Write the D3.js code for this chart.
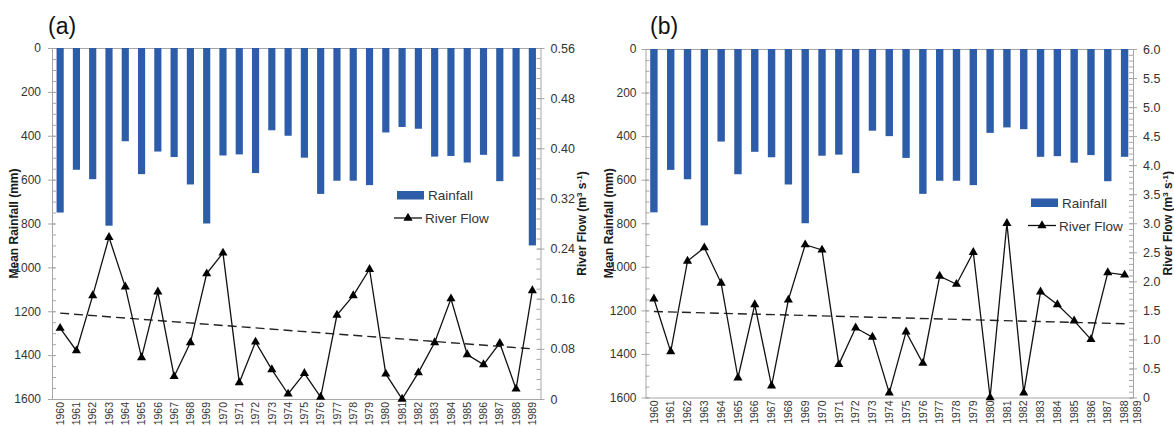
<!DOCTYPE html>
<html>
<head>
<meta charset="utf-8">
<script src="https://cdn.jsdelivr.net/npm/d3@7"></script>
<style>
  body { margin: 0; background: #fff; }
  svg { display: block; font-family: "Liberation Sans", Arial, sans-serif; }
</style>
</head>
<body>
<div id="chart"></div>
<script>
// years on the category axis
const years = [1960, 1961, 1962, 1963, 1964, 1965, 1966, 1967, 1968, 1969,
               1970, 1971, 1972, 1973, 1974, 1975, 1976, 1977, 1978, 1979,
               1980, 1981, 1982, 1983, 1984, 1985, 1986, 1987, 1988, 1989];

// mean rainfall (mm), same series in both panels
const rainfall = [750, 555, 598, 810, 425, 575, 472, 497, 622, 800,
                  490, 485, 570, 375, 400, 500, 665, 605, 605, 625,
                  385, 360, 368, 495, 492, 522, 487, 607, 495, 900];

// river flow (m3 s-1)
const flowA = [0.113, 0.077, 0.165, 0.258, 0.179, 0.066, 0.171, 0.036, 0.090, 0.200,
               0.233, 0.026, 0.091, 0.047, 0.008, 0.041, 0.003, 0.134, 0.165, 0.207,
               0.040, 0.000, 0.042, 0.090, 0.160, 0.071, 0.055, 0.089, 0.016, 0.173];
const flowB = [1.70, 0.79, 2.35, 2.58, 1.97, 0.34, 1.60, 0.20, 1.68, 2.63,
               2.54, 0.57, 1.20, 1.04, 0.08, 1.13, 0.59, 2.09, 1.95, 2.50,
               0.00, 3.00, 0.08, 1.82, 1.60, 1.32, 1.00, 2.15, 2.11];

// dashed trend line, start and end value
const trendA = [0.137, 0.080];
const trendB = [1.48, 1.27];

// tick values
const rainTicks = [0, 200, 400, 600, 800, 1000, 1200, 1400, 1600];
const flowTicksA = [0, 0.08, 0.16, 0.24, 0.32, 0.40, 0.48, 0.56];
const flowTicksB = [0, 0.5, 1.0, 1.5, 2.0, 2.5, 3.0, 3.5, 4.0, 4.5, 5.0, 5.5, 6.0];

const width = 1174, height = 426;
const barColor = "#2d5ca8",
      axisColor = "#a6a6a6",
      labelColor = "#333";

const svg = d3.select("#chart").append("svg")
    .attr("width", width)
    .attr("height", height);

function drawPanel(p) {
  const g = svg.append("g");
  const yrs = years.slice(0, p.flow.length);

  const x = d3.scaleBand()
      .domain(yrs)
      .range([p.x0, p.x1])
      .paddingInner(0.56)
      .paddingOuter(0.28);

  const yRain = d3.scaleLinear().domain([0, 1600]).range([p.top, p.bottom]);
  const yFlow = d3.scaleLinear().domain([0, d3.max(p.flowTicks)]).range([p.bottom, p.top]);
  const cx = d => x(d) + x.bandwidth() / 2;

  // top and bottom frame lines
  g.append("g")
      .attr("transform", "translate(0," + p.top + ")")
      .call(d3.axisTop(x).tickSize(0).tickFormat(""))
      .call(a => a.select(".domain").attr("stroke", axisColor));

  const xb = g.append("g")
      .attr("transform", "translate(0," + p.bottom + ")")
      .call(d3.axisBottom(x).tickSize(0).tickPadding(0).tickFormat(d3.format("d")));
  xb.select(".domain").attr("stroke", axisColor);
  xb.selectAll("text")
      .attr("transform", "rotate(-90)")
      .attr("text-anchor", "end")
      .attr("x", -3)
      .attr("y", 0)
      .attr("dy", "0.35em")
      .attr("fill", labelColor)
      .style("font-size", "10.5px")
      .style("font-family", "Liberation Sans, Arial, sans-serif");
  if (p.extraLabel) {
    g.append("text")
        .attr("transform", "translate(" + (p.x1 + 4) + "," + (p.bottom + 3) + ") rotate(-90)")
        .attr("text-anchor", "end")
        .attr("dy", "0.35em")
        .attr("fill", labelColor)
        .style("font-size", "10.5px")
        .text(p.extraLabel);
  }

  // left axis: minor then major
  g.append("g")
      .attr("transform", "translate(" + p.x0 + ",0)")
      .call(d3.axisLeft(yRain).tickValues(d3.range(0, 1601, 50)).tickSize(-4).tickSizeOuter(0).tickFormat(""))
      .call(a => { a.select(".domain").remove(); a.selectAll("line").attr("stroke", axisColor); });
  const ly = g.append("g")
      .attr("transform", "translate(" + p.x0 + ",0)")
      .call(d3.axisLeft(yRain).tickValues(rainTicks).tickSize(4).tickSizeOuter(0).tickPadding(p.leftPad)
        .tickFormat(d3.format("d")));
  ly.select(".domain").attr("stroke", axisColor);
  ly.selectAll("line").attr("x1", 3).attr("stroke", axisColor);
  ly.selectAll("text").attr("fill", labelColor).style("font-size", "12px")
      .style("font-family", "Liberation Sans, Arial, sans-serif");

  // right axis
  const fmax = d3.max(p.flowTicks);
  g.append("g")
      .attr("transform", "translate(" + p.x1 + ",0)")
      .call(d3.axisRight(yFlow).tickValues(d3.range(0, fmax + p.minorStep / 2, p.minorStep)).tickSize(-4).tickSizeOuter(0).tickFormat(""))
      .call(a => { a.select(".domain").remove(); a.selectAll("line").attr("stroke", axisColor); });
  const ry = g.append("g")
      .attr("transform", "translate(" + p.x1 + ",0)")
      .call(d3.axisRight(yFlow).tickValues(p.flowTicks).tickSize(4).tickSizeOuter(0).tickPadding(6)
        .tickFormat(d => d === 0 ? "0" : d3.format(p.fmt)(d)));
  ry.select(".domain").attr("stroke", axisColor);
  ry.selectAll("line").attr("x1", -3).attr("stroke", axisColor);
  ry.selectAll("text").attr("fill", labelColor).style("font-size", "12.5px")
      .style("font-family", "Liberation Sans, Arial, sans-serif");

  // rainfall bars hanging from the top
  g.selectAll("rect.bar")
      .data(yrs)
      .enter().append("rect")
      .attr("class", "bar")
      .attr("x", d => x(d))
      .attr("y", yRain(0))
      .attr("width", x.bandwidth())
      .attr("height", (d, i) => yRain(rainfall[i]) - yRain(0))
      .attr("fill", barColor);

  // trend
  const line = d3.line().x(d => cx(d[0])).y(d => yFlow(d[1]));
  g.append("path")
      .attr("d", line([[yrs[0], p.trend[0]], [yrs[yrs.length - 1], p.trend[1]]]))
      .attr("fill", "none")
      .attr("stroke", "#222")
      .attr("stroke-width", 1.4)
      .attr("stroke-dasharray", "9,5");

  // river flow
  g.append("path")
      .attr("d", line(yrs.map((d, i) => [d, p.flow[i]])))
      .attr("fill", "none")
      .attr("stroke", "#111")
      .attr("stroke-width", 1.3);

  const tri = d3.symbol(d3.symbolTriangle).size(36);
  g.selectAll("path.pt")
      .data(yrs)
      .enter().append("path")
      .attr("class", "pt")
      .attr("d", tri)
      .attr("transform", (d, i) => "translate(" + cx(d) + "," + yFlow(p.flow[i]) + ")")
      .attr("fill", "#000");

  // panel letter
  g.append("text")
      .attr("x", p.letterX)
      .attr("y", 34)
      .style("font-size", "23px")
      .attr("fill", "#111")
      .text(p.letter);

  // axis titles
  const mid = (p.top + p.bottom) / 2;
  g.append("text")
      .attr("transform", "translate(" + p.leftTitleX + "," + mid + ") rotate(-90)")
      .attr("text-anchor", "middle")
      .style("font-size", "12px")
      .style("font-weight", "bold")
      .attr("fill", "#1a1a1a")
      .text("Mean Rainfall (mm)");

  const rt = g.append("text")
      .attr("transform", "translate(" + p.rightTitleX + "," + mid + ") rotate(-90)")
      .attr("text-anchor", "middle")
      .style("font-size", "12px")
      .style("font-weight", "bold")
      .attr("fill", "#1a1a1a");
  rt.append("tspan").text("River Flow (m");
  rt.append("tspan").attr("dy", -4).style("font-size", "8px").text("3");
  rt.append("tspan").attr("dy", 4).text(" s");
  rt.append("tspan").attr("dy", -4).style("font-size", "8px").text("-1");
  rt.append("tspan").attr("dy", 4).text(")");

  // legend
  const lg = g.append("g").attr("transform", "translate(" + p.legend[0] + "," + p.legend[1] + ")");
  lg.append("rect").attr("x", 0).attr("y", 0).attr("width", 27).attr("height", 8.5).attr("fill", barColor);
  lg.append("text").attr("x", 31).attr("y", 9).style("font-size", "13.5px").attr("fill", "#333").text("Rainfall");
  lg.append("line").attr("x1", -3).attr("x2", 25).attr("y1", 27).attr("y2", 27)
      .attr("stroke", "#111").attr("stroke-width", 1.3);
  lg.append("path").attr("d", tri).attr("transform", "translate(11,27)").attr("fill", "#000");
  lg.append("text").attr("x", 28).attr("y", 32).style("font-size", "13.5px").attr("fill", "#333").text("River Flow");
}

drawPanel({
  letter: "(a)", flow: flowA, trend: trendA, flowTicks: flowTicksA, minorStep: 0.016, fmt: ".2f",
  x0: 52, x1: 540.5, top: 48, bottom: 399, leftPad: 7, letterX: 48,
  leftTitleX: 18, rightTitleX: 586, legend: [397, 191]
});

drawPanel({
  letter: "(b)", flow: flowB, trend: trendB, flowTicks: flowTicksB, minorStep: 0.1, fmt: ".1f",
  x0: 645.5, x1: 1133, top: 49, bottom: 397.5, leftPad: 5, letterX: 650, extraLabel: "1989",
  leftTitleX: 613, rightTitleX: 1172, legend: [1031, 198.5]
});
</script>
</body>
</html>
